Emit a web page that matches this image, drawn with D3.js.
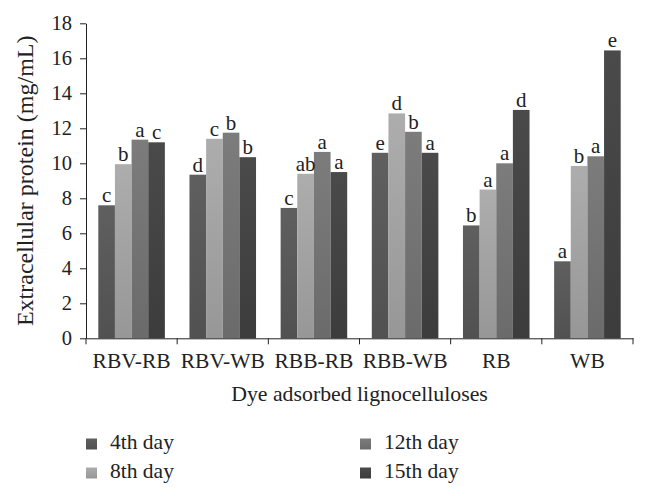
<!DOCTYPE html>
<html><head><meta charset="utf-8">
<script src="https://cdn.jsdelivr.net/npm/d3@7/dist/d3.min.js"></script>
<style>body{margin:0;background:#fff}svg{display:block}text{font-family:"Liberation Serif","DejaVu Serif",serif;fill:#222}</style>
</head><body><svg id="c" width="647" height="496"></svg>
<script>
const categories = ["RBV-RB","RBV-WB","RBB-RB","RBB-WB","RB","WB"];
const seriesNames = ["4th day","8th day","12th day","15th day"];
const day4  = [7.6, 9.35, 7.45, 10.6, 6.45, 4.4];
const day8  = [9.95, 11.4, 9.4, 12.85, 8.5, 9.85];
const day12 = [11.35, 11.75, 10.65, 11.8, 10.0, 10.4];
const day15 = [11.2, 10.35, 9.5, 10.6, 13.05, 16.45];
const let4  = ["c","d","c","e","b","a"];
const let8  = ["b","c","ab","d","a","b"];
const let12 = ["a","b","a","b","a","a"];
const let15 = ["c","b","a","a","d","e"];
const yTicks = [0,2,4,6,8,10,12,14,16,18];

const values = [day4, day8, day12, day15];
const letters = [let4, let8, let12, let15];
const colorsTop = ["#5f5f5f","#adadad","#7c7c7c","#4a4a4a"];
const colorsBot = ["#515151","#979797","#6b6b6b","#3c3c3c"];

const svg = d3.select("#c");
const m = {l:86, r:633, t:23.3, b:338.3};
const x0 = d3.scaleBand().domain(categories).range([m.l, m.r]).padding(0);
const bw = x0.bandwidth();
const x1 = d3.scaleBand().domain(d3.range(4)).range([12.3, bw - 12.3]).padding(0);
const y = d3.scaleLinear().domain([0,18]).range([m.b, m.t]);

const defs = svg.append("defs");
colorsTop.forEach((c,i)=>{
  const g = defs.append("linearGradient").attr("id","g"+i).attr("x1",0).attr("y1",0).attr("x2",0).attr("y2",1);
  g.append("stop").attr("offset","0%").attr("stop-color",c);
  g.append("stop").attr("offset","100%").attr("stop-color",colorsBot[i]);
});

const rows = [];
categories.forEach((cat,ci)=>values.forEach((arr,si)=>rows.push({cat, si, v:arr[ci], l:letters[si][ci]})));

svg.append("g").selectAll("rect").data(rows).join("rect")
  .attr("x", d=>x0(d.cat)+x1(d.si))
  .attr("y", d=>y(d.v))
  .attr("width", x1.bandwidth())
  .attr("height", d=>y(0)-y(d.v))
  .attr("fill", d=>`url(#g${d.si})`);

svg.append("g").selectAll("text").data(rows).join("text")
  .attr("x", d=>x0(d.cat)+x1(d.si)+x1.bandwidth()/2)
  .attr("y", d=>y(d.v)-3)
  .attr("text-anchor","middle")
  .style("font-size","21px")
  .text(d=>d.l);

// y axis
const ya = svg.append("g").attr("transform",`translate(${m.l},0)`)
  .call(d3.axisLeft(y).tickValues(yTicks).tickSize(6).tickSizeOuter(0).tickPadding(8));
ya.selectAll("text").style("font-size","20.5px").style("font-family","Liberation Serif");
ya.selectAll("line,path").attr("stroke","#222");

// x axis
const xa = svg.append("g").attr("transform",`translate(0,${m.b})`)
  .call(d3.axisBottom(x0).tickSize(0).tickPadding(14.5).tickSizeOuter(0));
xa.selectAll("text").style("font-size","21.5px").style("font-family","Liberation Serif");
xa.select("path").attr("stroke","#222");
const bounds = categories.map(c=>x0(c)).concat([x0.range()[1]]);
xa.selectAll("line.bt").data(bounds).join("line").attr("class","bt")
  .attr("x1",d=>d).attr("x2",d=>d).attr("y1",0).attr("y2",6).attr("stroke","#222");

// axis titles
svg.append("text").attr("x",(m.l+m.r)/2).attr("y",401).attr("text-anchor","middle")
  .style("font-size","21.8px").text("Dye adsorbed lignocelluloses");
svg.append("text").attr("transform",`translate(33,${(m.t+m.b)/2}) rotate(-90)`).attr("text-anchor","middle")
  .style("font-size","24px").text("Extracellular protein (mg/mL)");

// legend
const legPos = [[86,449],[86,478],[360,449],[360,478]];
const leg = svg.append("g").selectAll("g").data(seriesNames).join("g")
  .attr("transform",(d,i)=>`translate(${legPos[i][0]},${legPos[i][1]})`);
leg.append("rect").attr("x",0).attr("y",-10.5).attr("width",11).attr("height",11)
  .attr("fill",(d,i)=>`url(#g${i})`);
leg.append("text").attr("x",24).attr("y",0).style("font-size","21.5px").text(d=>d);
</script></body></html>
